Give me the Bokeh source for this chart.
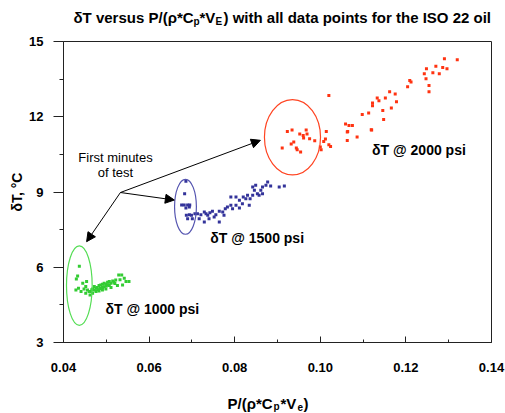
from bokeh.plotting import figure
from bokeh.layouts import column
from bokeh.models import (Range1d, FixedTicker, NumeralTickFormatter, Label,
                          Arrow, NormalHead, ColumnDataSource)
from bokeh.embed import file_html
from bokeh.resources import INLINE

# ---------------- data ----------------
x_ticks = [0.04, 0.06, 0.08, 0.10, 0.12, 0.14]
x_minor = [0.05, 0.07, 0.09, 0.11, 0.13]
y_ticks = [3, 6, 9, 12, 15]
y_minor = [4.5, 7.5, 10.5, 13.5]

green_x = [0.0437, 0.0433, 0.0430, 0.0445, 0.0454, 0.0429, 0.0435, 0.0441, 0.0448, 0.0456,
           0.0464, 0.0468, 0.0472, 0.0476, 0.0479, 0.0483, 0.0487, 0.0491, 0.0495, 0.0499,
           0.0503, 0.0507, 0.0511, 0.0515, 0.0518, 0.0522, 0.0529, 0.0536, 0.0542, 0.0546,
           0.0553, 0.0538, 0.0526, 0.0511, 0.0499, 0.0491, 0.0483, 0.0476, 0.0468, 0.0460,
           0.0452, 0.0491, 0.0507, 0.0472, 0.0462, 0.0452, 0.0480, 0.0495, 0.0505, 0.0520,
           0.0532, 0.0466, 0.0486, 0.0500]
green_y = [6.04, 5.65, 5.53, 5.36, 5.43, 5.09, 5.16, 5.03, 5.13, 5.09,
           5.03, 5.13, 5.23, 5.16, 5.19, 5.27, 5.29, 5.32, 5.36, 5.32,
           5.40, 5.43, 5.36, 5.45, 5.40, 5.49, 5.69, 5.69, 5.56, 5.43,
           5.43, 5.29, 5.27, 5.19, 5.13, 5.09, 5.05, 5.03, 4.96, 5.03,
           5.23, 5.19, 5.27, 5.09, 4.89, 4.96, 5.10, 5.22, 5.30, 5.35,
           5.50, 5.10, 5.15, 5.25]

blue_x = [0.0686, 0.0683, 0.0676, 0.0682, 0.0690, 0.0695, 0.0686, 0.0694, 0.0687, 0.0694,
          0.0699, 0.0690, 0.0701, 0.0707,
          0.0713, 0.0721, 0.0729, 0.0737, 0.0742, 0.0748, 0.0756, 0.0764, 0.0772, 0.0778,
          0.0783, 0.0791, 0.0795, 0.0803, 0.0811, 0.0818, 0.0826, 0.0830, 0.0836, 0.0842,
          0.0846, 0.0853, 0.0861, 0.0865, 0.0873, 0.0877, 0.0884, 0.0904, 0.0916, 0.0729,
          0.0764, 0.0740, 0.0752, 0.0791, 0.0803, 0.0820, 0.0834, 0.0857, 0.0842, 0.0849,
          0.0717, 0.0733, 0.0775, 0.0811, 0.0865]
blue_y = [9.43, 8.93, 8.48, 8.48, 8.48, 8.48, 8.36, 8.40, 8.07, 8.09,
          8.07, 7.93, 7.93, 8.13,
          8.13, 8.09, 8.20, 8.07, 8.17, 8.23, 8.09, 8.23, 8.20, 8.33,
          8.40, 8.47, 8.33, 8.47, 8.36, 8.53, 8.73, 8.87, 8.73, 8.87,
          9.07, 8.93, 9.07, 9.20, 9.27, 9.40, 9.24, 9.20, 9.24, 7.80,
          7.80, 7.93, 8.00, 8.80, 8.80, 8.80, 8.47, 8.87, 9.20, 9.27,
          7.93, 8.13, 8.07, 8.67, 8.93]

red_x = [0.1290, 0.1320, 0.1270, 0.1248, 0.1286, 0.1296, 0.1263, 0.1278, 0.1243, 0.1247,
         0.1209, 0.1212, 0.1204, 0.1254, 0.1254, 0.1162, 0.1175, 0.1133, 0.1152, 0.1137,
         0.1178, 0.1122, 0.1122, 0.1166, 0.1146, 0.1148, 0.1120, 0.1098, 0.1113, 0.1119,
         0.1059, 0.1067, 0.1075, 0.1063, 0.1086, 0.1063, 0.1020, 0.1064, 0.1014, 0.1012,
         0.1008, 0.1000, 0.1020, 0.1024, 0.1002, 0.0987, 0.0923, 0.0934, 0.0952, 0.0960,
         0.0969, 0.0967, 0.0961, 0.0975, 0.0938, 0.0932, 0.0944, 0.0946, 0.0911, 0.0954]
red_y = [14.31, 14.27, 14.01, 13.91, 13.96, 13.91, 13.75, 13.71, 13.71, 13.51,
         13.45, 13.39, 13.20, 13.25, 13.00, 13.00, 12.91, 12.75, 12.75, 12.64,
         12.60, 12.55, 12.44, 12.35, 12.25, 11.89, 11.47, 12.09, 12.15, 11.48,
         11.71, 11.65, 11.65, 11.39, 11.19, 11.05, 12.85, 11.41, 11.41, 11.11,
         11.01, 10.79, 10.88, 10.81, 10.68, 11.04, 11.41, 11.47, 11.31, 11.25,
         11.31, 11.47, 11.15, 11.12, 10.99, 10.91, 10.75, 10.68, 10.75, 10.59]

# ellipses marking "first minutes of test"
ell_x = [0.0437, 0.0685, 0.0935]
ell_y = [5.27, 8.41, 11.18]
ell_w = [0.0060, 0.0051, 0.0131]
ell_h = [3.17, 2.19, 3.00]

# arrows: common start, three ends
arrow_start = (0.0533, 8.98)
arrow_end_x = [0.0454, 0.0659, 0.0860]
arrow_end_y = [7.02, 8.68, 11.06]

series_labels = ["δT @ 1000 psi", "δT @ 1500 psi", "δT @ 2000 psi"]
series_label_x = [0.0498, 0.0743, 0.1121]
series_label_y = [4.35, 7.15, 10.66]

GREEN, BLUE, RED = "#33cc33", "#33339a", "#ff3311"
ELL_COLORS = ["#55dd55", "#5555b0", "#ff4422"]
FONT = "Liberation Sans"
W = 505
BL, BR = 63, 14          # left / right borders shared by all stacked figures


def text_strip(height, pieces):
    """A strip whose frame spans the same columns as the main frame;
    x and y are canvas pixels (y measured from the strip's top)."""
    f = figure(width=W, height=height, x_range=Range1d(BL, W - BR), y_range=Range1d(height, 0),
               output_backend="svg", toolbar_location=None,
               x_axis_location=None, y_axis_location=None,
               min_border_left=BL, min_border_right=BR,
               min_border_top=0, min_border_bottom=0)
    f.xgrid.visible = False
    f.ygrid.visible = False
    f.outline_line_color = None
    f.background_fill_color = "white"
    f.border_fill_color = "white"
    for text, px, py, size in pieces:
        f.add_layout(Label(x=px, y=py, text=text, text_align="left",
                           text_baseline="alphabetic", text_font=FONT,
                           text_font_style="bold", text_font_size=size,
                           text_color="black"))
    return f


# ---------------- title strip (0..30 px) ----------------
title_fig = text_strip(30, [
    ("δT versus P/(ρ*C", 73, 16.5, "15px"),
    ("p", 193, 20.5, "10px"),
    ("*V", 199, 16.5, "15px"),
    ("E", 215, 20.5, "10px"),
    (") with all data points for the ISO 22 oil", 223, 16.5, "15px"),
])

# ---------------- main figure (30..385 px) ----------------
p = figure(width=W, height=355, x_range=Range1d(0.04, 0.14), y_range=Range1d(3, 15),
           output_backend="svg", toolbar_location=None,
           min_border_left=BL, min_border_right=BR, min_border_top=11, min_border_bottom=43)
p.background_fill_color = "white"
p.border_fill_color = "white"
p.xgrid.visible = False
p.ygrid.visible = False
p.outline_line_color = "#222222"
p.outline_line_width = 1

ax = p.xaxis[0]
ax.ticker = FixedTicker(ticks=x_ticks, minor_ticks=x_minor)
ax.formatter = NumeralTickFormatter(format="0.00")
ax.major_tick_in = 6
ax.major_tick_out = 0
ax.minor_tick_in = 3
ax.minor_tick_out = 0
ax.major_label_standoff = 20
for a in (p.xaxis[0], p.yaxis[0]):
    a.axis_line_color = "#222222"
    a.major_tick_line_color = "#222222"
    a.minor_tick_line_color = "#222222"
    a.major_label_text_font = FONT
    a.major_label_text_font_style = "bold"
    a.major_label_text_font_size = "13px"
    a.major_label_text_color = "black"

ay = p.yaxis[0]
ay.ticker = FixedTicker(ticks=y_ticks, minor_ticks=y_minor)
ay.major_tick_in = 0
ay.major_tick_out = 10
ay.minor_tick_in = 0
ay.minor_tick_out = 4
ay.major_label_standoff = 10
ay.axis_label = "δT, °C"
ay.axis_label_text_font = FONT
ay.axis_label_text_font_style = "bold"
ay.axis_label_text_font_size = "14px"
ay.axis_label_text_color = "black"
ay.axis_label_standoff = 1

# points
p.scatter(green_x, green_y, marker="square", size=3, fill_color=GREEN, line_color=None)
p.scatter(blue_x, blue_y, marker="square", size=3, fill_color=BLUE, line_color=None)
p.scatter(red_x, red_y, marker="square", size=3, fill_color=RED, line_color=None)

# ellipses
esrc = ColumnDataSource(dict(x=ell_x, y=ell_y, w=ell_w, h=ell_h, c=ELL_COLORS))
p.ellipse(x="x", y="y", width="w", height="h", source=esrc,
          fill_color=None, line_color="c", line_width=1.2)

# arrows
for ex, ey in zip(arrow_end_x, arrow_end_y):
    p.add_layout(Arrow(end=NormalHead(size=9, fill_color="black", line_color="black"),
                       x_start=arrow_start[0], y_start=arrow_start[1],
                       x_end=ex, y_end=ey, line_color="black", line_width=1))

# annotation text
for t, off in (("First minutes", -115.5), ("of test", -130.5)):
    p.add_layout(Label(x=0.04, y=15, x_offset=115 - BL, y_offset=off, text=t,
                       text_align="center", text_baseline="alphabetic",
                       text_font=FONT, text_font_size="13px", text_color="black"))

for t, lx, ly in zip(series_labels, series_label_x, series_label_y):
    p.add_layout(Label(x=lx, y=ly, text=t, text_align="left", text_baseline="alphabetic",
                       text_font=FONT, text_font_style="bold", text_font_size="14px",
                       text_color="black"))

# ---------------- x axis label strip (385..413 px) ----------------
xlabel_fig = text_strip(28, [
    ("P/(ρ*C", 227, 18, "15px"),
    ("p", 273, 21, "10px"),
    ("*V", 280, 18, "15px"),
    ("e", 297, 21, "10px"),
    (")", 303, 18, "15px"),
])

layout = column(title_fig, p, xlabel_fig, spacing=0)
open("out.html", "w").write(file_html(layout, INLINE))
